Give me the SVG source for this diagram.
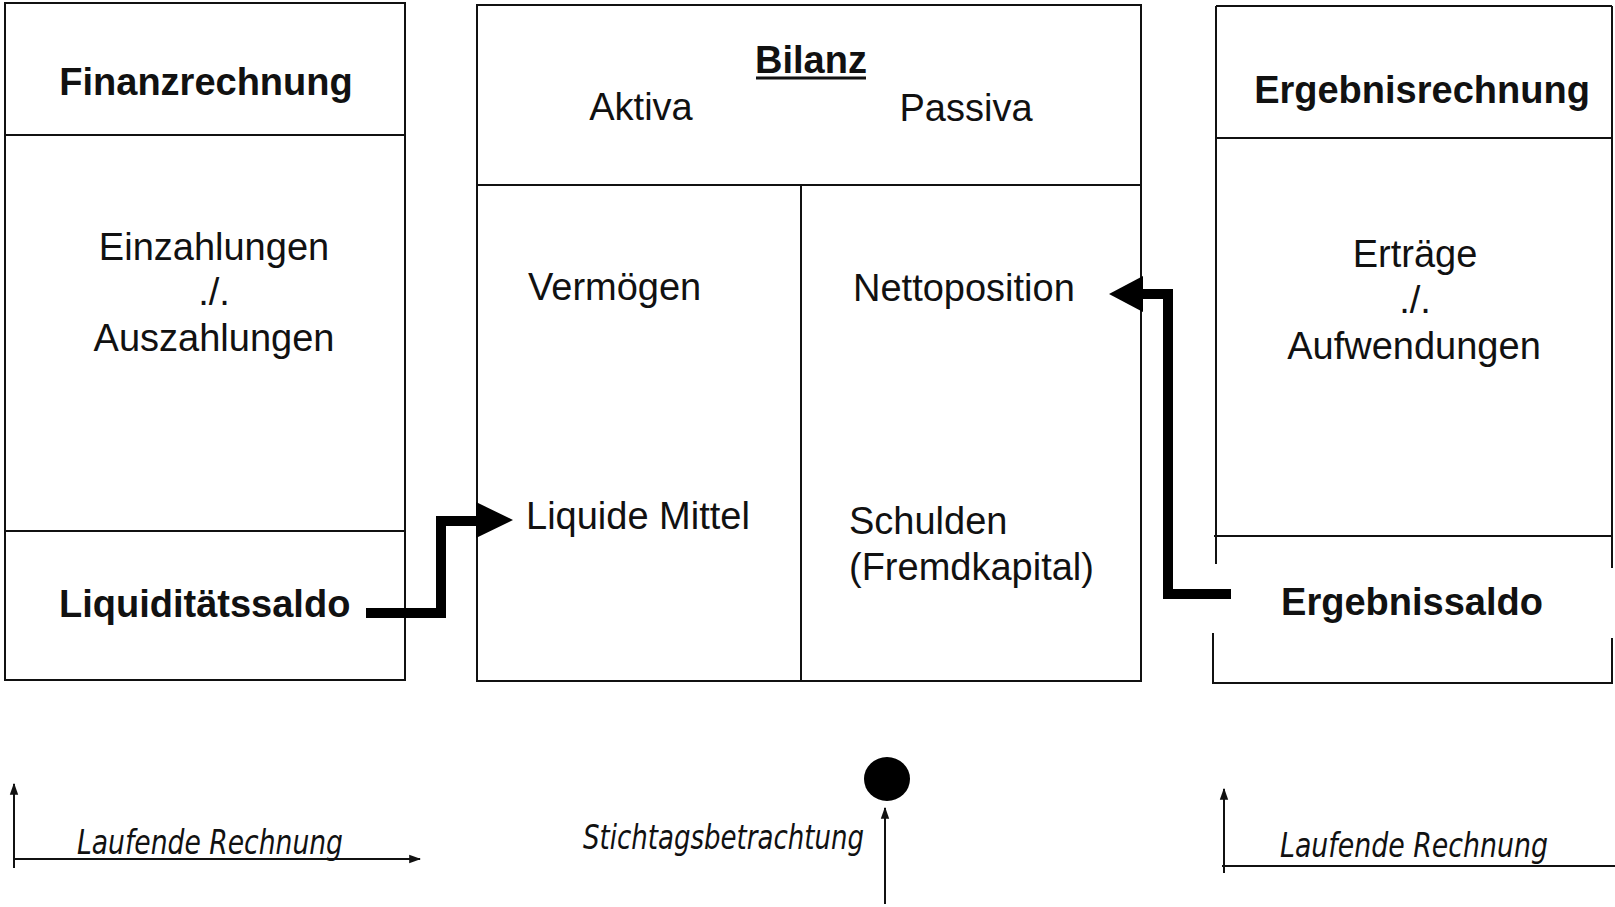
<svg xmlns="http://www.w3.org/2000/svg" width="1615" height="907" viewBox="0 0 1615 907">
<style>
.box{fill:none;stroke:#111;stroke-width:2}
.t{font-family:"Liberation Sans",Arial,sans-serif;font-size:38px;fill:#111}
.b{font-weight:bold}
.m{text-anchor:middle}
.i{font-family:"DejaVu Sans","Liberation Sans",sans-serif;font-style:italic;font-size:33px;fill:#111}
.thick{fill:none;stroke:#000;stroke-width:10}
.thin{fill:none;stroke:#111;stroke-width:2}
</style>
<defs>
<marker id="ah" viewBox="0 0 10 10" refX="9" refY="5" markerWidth="6" markerHeight="6" orient="auto" markerUnits="strokeWidth">
<path d="M0,1.5 L10,5 L0,8.5 Z" fill="#111"/>
</marker>
</defs>
<rect width="1615" height="907" fill="#fff"/>

<g id="finanzrechnung">
<rect class="box" x="5" y="3" width="400" height="677"/>
<line class="box" x1="5" y1="135" x2="405" y2="135"/>
<line class="box" x1="5" y1="531" x2="405" y2="531"/>
<text class="t b m" x="206" y="95">Finanzrechnung</text>
<text class="t m" x="214" y="260">Einzahlungen</text>
<text class="t m" x="214" y="305">./.</text>
<text class="t m" x="214" y="351">Auszahlungen</text>
<text class="t b" x="59" y="617">Liquiditätssaldo</text>
</g>

<g id="bilanz">
<rect class="box" x="477" y="5" width="664" height="676"/>
<line class="box" x1="477" y1="185" x2="1141" y2="185"/>
<line class="box" x1="801" y1="185" x2="801" y2="681"/>
<text class="t b m" x="811" y="73">Bilanz</text>
<line x1="756" y1="78" x2="866" y2="78" stroke="#111" stroke-width="3"/>
<text class="t m" x="641" y="120">Aktiva</text>
<text class="t m" x="966" y="121">Passiva</text>
<text class="t" x="528" y="300">Vermögen</text>
<text class="t" x="853" y="301">Nettoposition</text>
<text class="t" x="526" y="529">Liquide Mittel</text>
<text class="t" x="849" y="534">Schulden</text>
<text class="t" x="849" y="580">(Fremdkapital)</text>
</g>

<g id="ergebnisrechnung">
<line class="box" x1="1216" y1="6" x2="1612" y2="6"/>
<line class="box" x1="1216" y1="6" x2="1216" y2="564"/>
<line class="box" x1="1612" y1="6" x2="1612" y2="568"/>
<line class="box" x1="1216" y1="138" x2="1612" y2="138"/>
<line class="box" x1="1214" y1="536" x2="1612" y2="536"/>
<polyline class="box" points="1213,633 1213,683 1612,683 1612,638"/>
<text class="t b m" x="1422" y="103">Ergebnisrechnung</text>
<text class="t m" x="1415" y="267">Erträge</text>
<text class="t m" x="1415" y="313">./.</text>
<text class="t m" x="1414" y="359">Aufwendungen</text>
<text class="t b m" x="1412" y="615">Ergebnissaldo</text>
</g>

<g id="connectors">
<polyline class="thick" points="366,613 441,613 441,521 480,521"/>
<polygon points="476,502 513,520 476,538" fill="#000"/>
<polyline class="thick" points="1231,594 1168,594 1168,294 1140,294"/>
<polygon points="1143,276 1109,294 1143,312" fill="#000"/>
</g>

<g id="zeitachse-links">
<line class="thin" x1="14" y1="868" x2="14" y2="784" marker-end="url(#ah)"/>
<line class="thin" x1="13" y1="859" x2="420" y2="859" marker-end="url(#ah)"/>
<text class="i" x="77" y="854" textLength="266" lengthAdjust="spacingAndGlyphs">Laufende Rechnung</text>
</g>

<g id="stichtag">
<ellipse cx="887" cy="779" rx="23" ry="22" fill="#000"/>
<line class="thin" x1="885" y1="904" x2="885" y2="808" marker-end="url(#ah)"/>
<text class="i" x="583" y="849" textLength="281" lengthAdjust="spacingAndGlyphs">Stichtagsbetrachtung</text>
</g>

<g id="zeitachse-rechts">
<line class="thin" x1="1224" y1="873" x2="1224" y2="789" marker-end="url(#ah)"/>
<line class="thin" x1="1222" y1="866" x2="1615" y2="866"/>
<text class="i" x="1280" y="857" textLength="268" lengthAdjust="spacingAndGlyphs">Laufende Rechnung</text>
</g>
</svg>
